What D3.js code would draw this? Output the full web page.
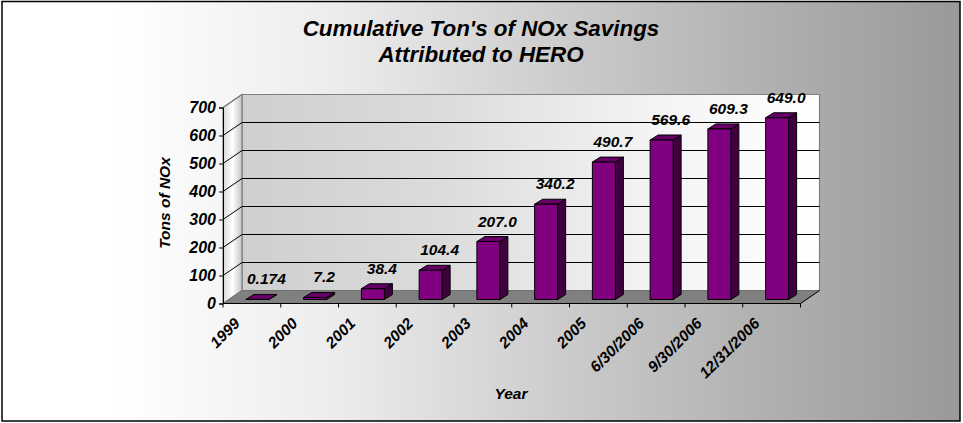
<!DOCTYPE html>
<html><head><meta charset="utf-8">
<script src="https://cdnjs.cloudflare.com/ajax/libs/d3/7.8.5/d3.min.js"></script>
<style>html,body{margin:0;padding:0;background:#fff}svg{display:block}text{font-family:"Liberation Sans",Arial,sans-serif;font-weight:bold;font-style:italic;fill:#000}</style>
</head><body><svg width="963" height="423"></svg>
<script>
const categories=["1999","2000","2001","2002","2003","2004","2005","6/30/2006","9/30/2006","12/31/2006"];
const tonsOfNOx=[0.174,7.2,38.4,104.4,207.0,340.2,490.7,569.6,609.3,649.0];
const valueLabels=["0.174","7.2","38.4","104.4","207.0","340.2","490.7","569.6","609.3","649.0"];
const yTicks=[0,100,200,300,400,500,600,700];
const titleLines=["Cumulative Ton's of NOx Savings","Attributed to HERO"];

const svg=d3.select("svg");
const defs=svg.append("defs");
function grad(id,stops){const g=defs.append("linearGradient").attr("id",id);
  stops.forEach(s=>g.append("stop").attr("offset",s[0]).attr("stop-color",s[1]));}
grad("bg",[[0,"#ffffff"],[0.12,"#ffffff"],[0.35,"#ececec"],[0.6,"#cacaca"],[0.8,"#b0b0b0"],[1,"#999999"]]);
grad("wall",[[0,"#cfcfcf"],[0.35,"#dcdcdc"],[0.7,"#f3f3f3"],[1,"#ffffff"]]);
grad("side",[[0,"#d8d8d8"],[0.5,"#ffffff"],[1,"#c4c4c4"]]);

svg.append("rect").attr("x",2).attr("y",1.5).attr("width",958).attr("height",419.5)
  .attr("fill","url(#bg)").attr("stroke","#000").attr("stroke-width",1.5);

const x=d3.scaleBand().domain(categories).range([223,800.5]);
const y=d3.scaleLinear().domain([0,700]).range([303.5,107.5]);
const dx=19,dy=-13;           // chart depth
const barW=23,bdx=8,bdy=-5,barShift=5.5,barLift=-4; // bar depth
const L=x.range()[0],R=x.range()[1];
const pts=a=>a.map(p=>p.join(",")).join(" ");

// walls and floor
svg.append("polygon").attr("points",pts([[L+dx,y(700)+dy],[R+dx,y(700)+dy],[R+dx,y(0)+dy],[L+dx,y(0)+dy]]))
  .attr("fill","url(#wall)").attr("stroke","#808080").attr("stroke-width",1.2);
svg.append("polygon").attr("points",pts([[L,y(700)],[L+dx,y(700)+dy],[L+dx,y(0)+dy],[L,y(0)]]))
  .attr("fill","url(#side)").attr("stroke","#808080").attr("stroke-width",1.2);
svg.append("polygon").attr("points",pts([[L,y(0)],[L+dx,y(0)+dy],[R+dx,y(0)+dy],[R,y(0)]]))
  .attr("fill","#808080").attr("stroke","#666").attr("stroke-width",.6);

// gridlines
yTicks.slice(1,-1).forEach(t=>{
  svg.append("polyline").attr("points",pts([[L,y(t)],[L+dx,y(t)+dy],[R+dx,y(t)+dy]]))
    .attr("fill","none").attr("stroke","#000").attr("stroke-width",1);
});
svg.append("line").attr("x1",L).attr("y1",y(700)).attr("x2",L+dx).attr("y2",y(700)+dy).attr("stroke","#777");
svg.append("line").attr("x1",R).attr("y1",y(0)).attr("x2",R+dx).attr("y2",y(0)+dy).attr("stroke","#000");

// bars
const bars=svg.selectAll("g.bar").data(categories).join("g").attr("class","bar");
bars.each(function(c,i){
  const g=d3.select(this),v=tonsOfNOx[i];
  const x0=x(c)+x.bandwidth()/2+barShift-barW/2,x1=x0+barW;
  const yb=y(0)+barLift,yt=y(v)+barLift;
  const st=s=>s.attr("stroke","#000").attr("stroke-width",1).attr("stroke-linejoin","round");
  st(g.append("polygon").attr("points",pts([[x1,yt],[x1+bdx,yt+bdy],[x1+bdx,yb+bdy],[x1,yb]])).attr("fill","#400040"));
  st(g.append("polygon").attr("points",pts([[x0,yt],[x0+bdx,yt+bdy],[x1+bdx,yt+bdy],[x1,yt]])).attr("fill","#660066"));
  st(g.append("rect").attr("x",x0).attr("y",yt).attr("width",barW).attr("height",yb-yt).attr("fill","#800080"));
  g.append("text").attr("x",x0+barW/2+9).attr("y",yt+bdy-10).attr("text-anchor","middle")
    .attr("font-size",15.5).text(valueLabels[i]);
});

// axes
const yAxis=svg.append("g").attr("transform",`translate(${L},0)`).call(d3.axisLeft(y).tickValues(yTicks).tickSize(4).tickPadding(3).tickFormat(d3.format("d")));
yAxis.select(".domain").attr("stroke","#000");
yAxis.selectAll("text").attr("font-size",16);
const xAxis=svg.append("g").attr("transform",`translate(0,${y(0)})`).call(d3.axisBottom(x).tickSize(0).tickFormat(""));
xAxis.select(".domain").attr("stroke","#000").attr("d",`M${L},0H${R}`);
xAxis.selectAll(".tick").remove();
const edges=d3.range(categories.length+1).map(i=>L+i*x.bandwidth());
svg.selectAll("line.xt").data(edges).join("line").attr("class","xt")
  .attr("x1",d=>d).attr("x2",d=>d).attr("y1",y(0)).attr("y2",y(0)+4).attr("stroke","#000");
svg.selectAll("text.cat").data(categories).join("text").attr("class","cat")
  .attr("text-anchor","end").attr("font-size",15.5)
  .attr("transform",d=>`translate(${x(d)+x.bandwidth()/2-11},${y(0)+21}) rotate(-45)`).text(d=>d);

// titles
svg.selectAll("text.title").data(titleLines).join("text").attr("class","title")
  .attr("x",481).attr("y",(d,i)=>36+i*26).attr("text-anchor","middle").attr("font-size",22.4).text(d=>d);
svg.append("text").attr("transform","translate(170,203) rotate(-90)").attr("text-anchor","middle").attr("font-size",15.5).text("Tons of NOx");
svg.append("text").attr("x",511).attr("y",399).attr("text-anchor","middle").attr("font-size",15.5).text("Year");
</script></body></html>
